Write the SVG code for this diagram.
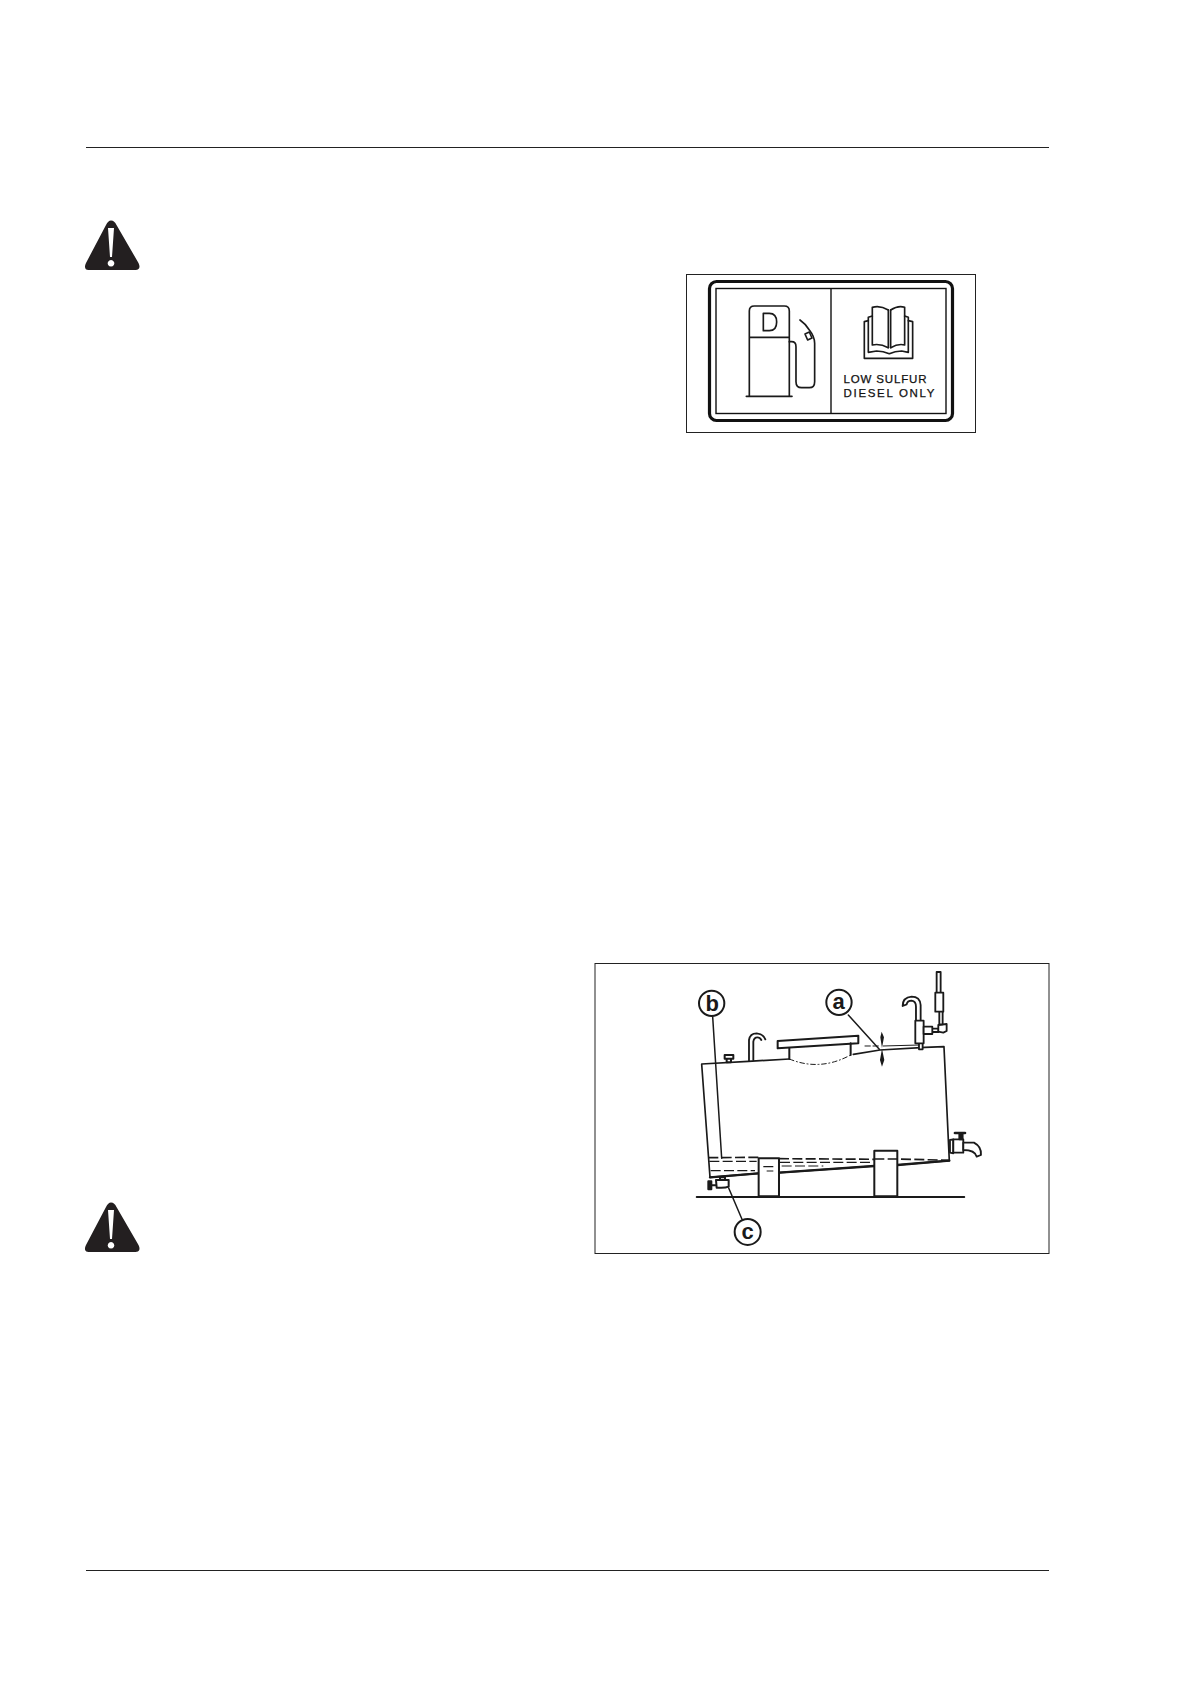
<svg xmlns="http://www.w3.org/2000/svg" width="1191" height="1684" viewBox="0 0 1191 1684">
<style>
.l{fill:none;stroke:#1a1a1a;stroke-linecap:round;stroke-linejoin:round}
.f{fill:#fff;stroke:#1a1a1a;stroke-linejoin:round}
.d{fill:none;stroke:#1a1a1a;stroke-dasharray:30 10}
.b{font-family:"Liberation Sans",Arial,sans-serif;font-weight:700;font-size:66px;fill:#1a1a1a;text-anchor:middle}
.s{font-family:"Liberation Sans",Arial,sans-serif;font-size:11.500px;fill:#111;stroke:#111;stroke-width:.25}
</style>
<defs>
<g id="warn"><path d="M111 220.500 C113.500 220.500 115 222 116.500 225 L138.500 263 C140.500 267 139.500 270 135.500 270 L88.500 270 C85 270 84 267 86 263 L106 225 C107.500 222 109 220.500 111 220.500Z" fill="#231f20"/><path d="M108 228 L114 228 L112 257 L110 257Z M111 260 a3.300 3.300 0 1 0 .01 0Z" fill="#fff"/></g>
</defs>
<g id="rules"><path d="M86 147.500H1049M86 1570.500H1049" stroke="#222" stroke-width="1.200" fill="none"/></g>
<g id="warning-1"><use href="#warn"/></g>
<g id="warning-2"><use href="#warn" y="982"/></g>
<g id="fuel-label">
<rect x="686.500" y="274.500" width="289" height="158" fill="#fff" stroke="#222" stroke-width="1"/>
<rect x="709.500" y="281.500" width="243" height="139" rx="7" fill="none" stroke="#111" stroke-width="3.200"/>
<rect x="716" y="288.500" width="230" height="125" fill="none" stroke="#111" stroke-width="1.400"/>
<path d="M831 288.500V413.500" stroke="#111" stroke-width="1.400"/>
<g transform="translate(680 265) scale(.3333)" class="l" stroke-width="5">
<path d="M199 394H336M208 394V138Q208 123 223 123H313Q328 123 328 138V394M208 217H328"/>
<path d="M250 145V197H268Q290 197 290 171Q290 145 268 145Z"/>
<path d="M328 230H335Q348 230 348 245V350Q348 368 365 368H388Q404 368 404 350V235Q404 215 388 195Q375 175 360 165"/>
<path d="M375 207L388 201L396 219L383 225Z" fill="#fff"/>
<path d="M625 135V248M632 135V248"/>
<path d="M625 135Q600 120 577 127V240Q600 235 625 248M632 135Q655 120 674 127V240Q655 235 632 248"/>
<path d="M577 153L565 157V262L590 258Q610 258 628 266Q645 258 665 258L685 262V157L674 153"/>
<path d="M565 167L553 170V280H698V170L685 167"/>
</g>
<text class="s" x="843.500" y="382.500" textLength="83" lengthAdjust="spacing">LOW SULFUR</text>
<text class="s" x="843.500" y="397" textLength="91" lengthAdjust="spacing">DIESEL ONLY</text>
</g>
<g id="tank-figure">
<rect x="595" y="963.500" width="454" height="290" fill="#fff" stroke="#222" stroke-width="1"/>
<g transform="translate(680 960) scale(.3333)">
<g id="tank-body" class="l" stroke-width="5">
<path d="M328 297L205 304L65 312L90 652L235 640M298 638L583 618M652 615L808 602L792 260L735 262L600 270L520 283" />
<path d="M90 652L235 640M298 638L583 618M652 615L808 602" stroke-width="7"/>
<path d="M610 258L720 255" stroke-width="3"/>
<path d="M98 170L125 595" stroke-width="4.500"/>
<path d="M50 711H853" stroke-width="5.500"/>
</g>
<g id="fill-cap">
<path class="f" stroke-width="6" d="M293 243L535 227V250L293 265Z"/>
<path class="l" stroke-width="6" d="M328 265V297M512 250V285"/>
<path class="l" stroke-width="3" stroke-dasharray="14 8 3 8" d="M328 297Q420 335 512 285"/>
</g>
<g id="vent" class="l" stroke-width="5.500">
<path d="M207 302V240Q210 220 230 220Q250 222 256 238M220 300V245Q222 232 232 232Q240 232 244 240"/>
<path class="f" stroke-width="6" d="M134 285H160V296H134ZM140 296V307H153V296"/>
</g>
<g id="gauge" class="l" stroke-width="5.500">
<path d="M722 182V135Q720 110 695 110Q668 112 668 138L680 133Q682 122 695 122Q708 124 708 140V182"/>
<path class="f" d="M706 182H731V250H706ZM717 250V268H728V250"/>
<path class="f" d="M731 200H757V222H731ZM757 206H776V216H757Z"/>
<path class="f" d="M775 195L800 192V213L790 218L775 215Z"/>
<path class="f" d="M778 155H788V193H778ZM766 98H790V155H766ZM770 36H782V98H770Z"/>
</g>
<g id="tap" class="l" stroke-width="5.500">
<path class="f" d="M810 540L820 538V580L810 578Z"/>
<path class="f" d="M820 538H850V578H820Z"/>
<path class="f" d="M850 548H882Q905 560 903 585L890 590Q885 570 850 570Z"/>
<path d="M838 522H848V538H838Z" fill="#1a1a1a"/>
<path d="M825 519H855" stroke-width="8"/>
</g>
<g id="supports" class="l" stroke-width="6">
<path class="f" d="M236 595H297V709H236Z"/>
<path class="f" d="M583 572H652V709H583Z"/>
</g>
<g id="fuel-level">
<path class="d" stroke-width="5" d="M85 593L236 592M297 596L583 598M583 597L652 597L810 601"/>
<path class="d" stroke-width="3.500" stroke-dasharray="24 14" d="M88 604H230M300 607L570 607M305 618H430M92 632H225M250 620H280M260 633H280"/>
</g>
<g id="drain" class="l" stroke-width="6">
<path class="f" d="M120 652H135V660H120ZM108 660H146V680Q135 685 110 683Z"/>
<path d="M85 664H94V688H85ZM94 676H108" fill="#1a1a1a"/>
</g>
<g id="callouts">
<path class="l" stroke-width="4.500" d="M505 165L598 268M146 684L186 778"/>
<path d="M605 215L612 232L606 264L601 232ZM606 320L613 300L606 266L600 300Z" fill="#1a1a1a"/>
<path class="l" stroke-width="3" stroke-dasharray="16 8" d="M555 258H598"/>
<g id="label-b"><circle class="f" stroke-width="6" cx="95" cy="130" r="38"/><text class="b" x="97" y="153">b</text></g>
<g id="label-a"><circle class="f" stroke-width="6" cx="477" cy="127" r="38"/><text class="b" x="476" y="146">a</text></g>
<g id="label-c"><circle class="f" stroke-width="6" cx="203" cy="816" r="39"/><text class="b" x="203" y="838">c</text></g>
</g>
</g>
</g>
</svg>
